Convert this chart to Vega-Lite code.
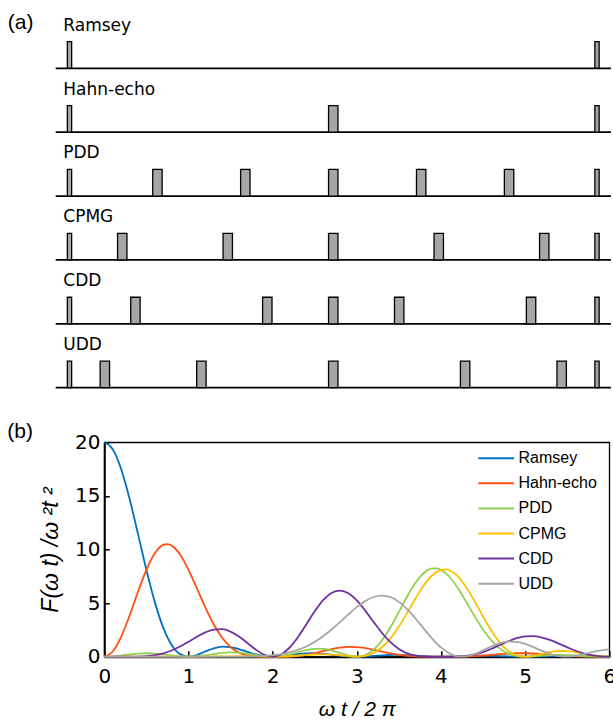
{
  "$schema": "https://vega.github.io/schema/vega-lite/v6.json",
  "width": 505,
  "height": 214.4,
  "autosize": {"type": "none"},
  "padding": {"left": 104.3, "top": 442.3, "right": 3.7, "bottom": 65.3},
  "config": {
    "font": "Liberation Sans",
    "view": {"stroke": "black", "strokeWidth": 1.3},
    "text": {"font": "Liberation Sans", "color": "black"}
  },
  "datasets": {
    "seqs": [
      {"seq": "Ramsey"}, {"seq": "Hahn-echo"}, {"seq": "PDD"}, {"seq": "CPMG"}, {"seq": "CDD"}, {"seq": "UDD"}
    ],
    "pulses": [
      {"seq": "Ramsey", "t": 0, "kind": "half"}, {"seq": "Ramsey", "t": 1, "kind": "half"},
      {"seq": "Hahn-echo", "t": 0, "kind": "half"}, {"seq": "Hahn-echo", "t": 0.5, "kind": "full"}, {"seq": "Hahn-echo", "t": 1, "kind": "half"},
      {"seq": "PDD", "t": 0, "kind": "half"}, {"seq": "PDD", "t": 0.1667, "kind": "full"}, {"seq": "PDD", "t": 0.3333, "kind": "full"}, {"seq": "PDD", "t": 0.5, "kind": "full"}, {"seq": "PDD", "t": 0.6667, "kind": "full"}, {"seq": "PDD", "t": 0.8333, "kind": "full"}, {"seq": "PDD", "t": 1, "kind": "half"},
      {"seq": "CPMG", "t": 0, "kind": "half"}, {"seq": "CPMG", "t": 0.1, "kind": "full"}, {"seq": "CPMG", "t": 0.3, "kind": "full"}, {"seq": "CPMG", "t": 0.5, "kind": "full"}, {"seq": "CPMG", "t": 0.7, "kind": "full"}, {"seq": "CPMG", "t": 0.9, "kind": "full"}, {"seq": "CPMG", "t": 1, "kind": "half"},
      {"seq": "CDD", "t": 0, "kind": "half"}, {"seq": "CDD", "t": 0.125, "kind": "full"}, {"seq": "CDD", "t": 0.375, "kind": "full"}, {"seq": "CDD", "t": 0.5, "kind": "full"}, {"seq": "CDD", "t": 0.625, "kind": "full"}, {"seq": "CDD", "t": 0.875, "kind": "full"}, {"seq": "CDD", "t": 1, "kind": "half"},
      {"seq": "UDD", "t": 0, "kind": "half"}, {"seq": "UDD", "t": 0.067, "kind": "full"}, {"seq": "UDD", "t": 0.25, "kind": "full"}, {"seq": "UDD", "t": 0.5, "kind": "full"}, {"seq": "UDD", "t": 0.75, "kind": "full"}, {"seq": "UDD", "t": 0.933, "kind": "full"}, {"seq": "UDD", "t": 1, "kind": "half"}
    ],
    "curves": [
      {"s":"Ramsey","x":0,"y":20},{"s":"Ramsey","x":0.1,"y":19.351},{"s":"Ramsey","x":0.2,"y":17.503},{"s":"Ramsey","x":0.3,"y":14.737},{"s":"Ramsey","x":0.4,"y":11.456},{"s":"Ramsey","x":0.5,"y":8.106},{"s":"Ramsey","x":0.6,"y":5.091},{"s":"Ramsey","x":0.7,"y":2.707},{"s":"Ramsey","x":0.8,"y":1.094},{"s":"Ramsey","x":0.9,"y":0.239},{"s":"Ramsey","x":1,"y":0},{"s":"Ramsey","x":1.1,"y":0.16},{"s":"Ramsey","x":1.2,"y":0.486},{"s":"Ramsey","x":1.3,"y":0.785},{"s":"Ramsey","x":1.4,"y":0.935},{"s":"Ramsey","x":1.5,"y":0.901},{"s":"Ramsey","x":1.6,"y":0.716},{"s":"Ramsey","x":1.7,"y":0.459},{"s":"Ramsey","x":1.8,"y":0.216},{"s":"Ramsey","x":1.9,"y":0.054},{"s":"Ramsey","x":2,"y":0},{"s":"Ramsey","x":2.1,"y":0.044},{"s":"Ramsey","x":2.2,"y":0.145},{"s":"Ramsey","x":2.3,"y":0.251},{"s":"Ramsey","x":2.4,"y":0.318},{"s":"Ramsey","x":2.5,"y":0.324},{"s":"Ramsey","x":2.6,"y":0.271},{"s":"Ramsey","x":2.7,"y":0.182},{"s":"Ramsey","x":2.8,"y":0.089},{"s":"Ramsey","x":2.9,"y":0.023},{"s":"Ramsey","x":3,"y":0},{"s":"Ramsey","x":3.1,"y":0.02},{"s":"Ramsey","x":3.2,"y":0.068},{"s":"Ramsey","x":3.3,"y":0.122},{"s":"Ramsey","x":3.4,"y":0.159},{"s":"Ramsey","x":3.5,"y":0.165},{"s":"Ramsey","x":3.6,"y":0.141},{"s":"Ramsey","x":3.7,"y":0.097},{"s":"Ramsey","x":3.8,"y":0.048},{"s":"Ramsey","x":3.9,"y":0.013},{"s":"Ramsey","x":4,"y":0},{"s":"Ramsey","x":4.1,"y":0.012},{"s":"Ramsey","x":4.2,"y":0.04},{"s":"Ramsey","x":4.3,"y":0.072},{"s":"Ramsey","x":4.4,"y":0.095},{"s":"Ramsey","x":4.5,"y":0.1},{"s":"Ramsey","x":4.6,"y":0.087},{"s":"Ramsey","x":4.7,"y":0.06},{"s":"Ramsey","x":4.8,"y":0.03},{"s":"Ramsey","x":4.9,"y":0.008},{"s":"Ramsey","x":5,"y":0},{"s":"Ramsey","x":5.1,"y":0.007},{"s":"Ramsey","x":5.2,"y":0.026},{"s":"Ramsey","x":5.3,"y":0.047},{"s":"Ramsey","x":5.4,"y":0.063},{"s":"Ramsey","x":5.5,"y":0.067},{"s":"Ramsey","x":5.6,"y":0.058},{"s":"Ramsey","x":5.7,"y":0.041},{"s":"Ramsey","x":5.8,"y":0.021},{"s":"Ramsey","x":5.9,"y":0.006},{"s":"Ramsey","x":6,"y":0},
      {"s":"Hahn-echo","x":0,"y":0},{"s":"Hahn-echo","x":0.1,"y":0.486},{"s":"Hahn-echo","x":0.2,"y":1.848},{"s":"Hahn-echo","x":0.3,"y":3.826},{"s":"Hahn-echo","x":0.4,"y":6.049},{"s":"Hahn-echo","x":0.5,"y":8.106},{"s":"Hahn-echo","x":0.6,"y":9.646},{"s":"Hahn-echo","x":0.7,"y":10.43},{"s":"Hahn-echo","x":0.75,"y":10.498},{"s":"Hahn-echo","x":0.8,"y":10.36},{"s":"Hahn-echo","x":0.9,"y":9.524},{"s":"Hahn-echo","x":1,"y":8.106},{"s":"Hahn-echo","x":1.1,"y":6.375},{"s":"Hahn-echo","x":1.2,"y":4.605},{"s":"Hahn-echo","x":1.3,"y":3.023},{"s":"Hahn-echo","x":1.4,"y":1.772},{"s":"Hahn-echo","x":1.5,"y":0.901},{"s":"Hahn-echo","x":1.6,"y":0.378},{"s":"Hahn-echo","x":1.7,"y":0.119},{"s":"Hahn-echo","x":1.8,"y":0.023},{"s":"Hahn-echo","x":1.9,"y":0.001},{"s":"Hahn-echo","x":2,"y":0},{"s":"Hahn-echo","x":2.1,"y":0.001},{"s":"Hahn-echo","x":2.2,"y":0.015},{"s":"Hahn-echo","x":2.3,"y":0.065},{"s":"Hahn-echo","x":2.4,"y":0.168},{"s":"Hahn-echo","x":2.5,"y":0.324},{"s":"Hahn-echo","x":2.6,"y":0.514},{"s":"Hahn-echo","x":2.7,"y":0.701},{"s":"Hahn-echo","x":2.8,"y":0.846},{"s":"Hahn-echo","x":2.9,"y":0.917},{"s":"Hahn-echo","x":3,"y":0.901},{"s":"Hahn-echo","x":3.1,"y":0.803},{"s":"Hahn-echo","x":3.2,"y":0.648},{"s":"Hahn-echo","x":3.3,"y":0.469},{"s":"Hahn-echo","x":3.4,"y":0.3},{"s":"Hahn-echo","x":3.5,"y":0.165},{"s":"Hahn-echo","x":3.6,"y":0.075},{"s":"Hahn-echo","x":3.7,"y":0.025},{"s":"Hahn-echo","x":3.8,"y":0.005},{"s":"Hahn-echo","x":3.9,"y":0},{"s":"Hahn-echo","x":4,"y":0},{"s":"Hahn-echo","x":4.1,"y":0},{"s":"Hahn-echo","x":4.2,"y":0.004},{"s":"Hahn-echo","x":4.3,"y":0.019},{"s":"Hahn-echo","x":4.4,"y":0.05},{"s":"Hahn-echo","x":4.5,"y":0.1},{"s":"Hahn-echo","x":4.6,"y":0.164},{"s":"Hahn-echo","x":4.7,"y":0.231},{"s":"Hahn-echo","x":4.8,"y":0.288},{"s":"Hahn-echo","x":4.9,"y":0.321},{"s":"Hahn-echo","x":5,"y":0.324},{"s":"Hahn-echo","x":5.1,"y":0.297},{"s":"Hahn-echo","x":5.2,"y":0.245},{"s":"Hahn-echo","x":5.3,"y":0.182},{"s":"Hahn-echo","x":5.4,"y":0.119},{"s":"Hahn-echo","x":5.5,"y":0.067},{"s":"Hahn-echo","x":5.6,"y":0.031},{"s":"Hahn-echo","x":5.7,"y":0.011},{"s":"Hahn-echo","x":5.8,"y":0.002},{"s":"Hahn-echo","x":5.9,"y":0},{"s":"Hahn-echo","x":6,"y":0},
      {"s":"PDD","x":0,"y":0},{"s":"PDD","x":0.1,"y":0.03},{"s":"PDD","x":0.2,"y":0.108},{"s":"PDD","x":0.3,"y":0.206},{"s":"PDD","x":0.4,"y":0.287},{"s":"PDD","x":0.5,"y":0.321},{"s":"PDD","x":0.6,"y":0.294},{"s":"PDD","x":0.7,"y":0.215},{"s":"PDD","x":0.8,"y":0.116},{"s":"PDD","x":0.9,"y":0.033},{"s":"PDD","x":1,"y":0},{"s":"PDD","x":1.1,"y":0.034},{"s":"PDD","x":1.2,"y":0.126},{"s":"PDD","x":1.3,"y":0.246},{"s":"PDD","x":1.4,"y":0.351},{"s":"PDD","x":1.5,"y":0.402},{"s":"PDD","x":1.6,"y":0.378},{"s":"PDD","x":1.7,"y":0.285},{"s":"PDD","x":1.8,"y":0.158},{"s":"PDD","x":1.9,"y":0.046},{"s":"PDD","x":2,"y":0},{"s":"PDD","x":2.1,"y":0.051},{"s":"PDD","x":2.2,"y":0.198},{"s":"PDD","x":2.3,"y":0.403},{"s":"PDD","x":2.4,"y":0.603},{"s":"PDD","x":2.5,"y":0.726},{"s":"PDD","x":2.6,"y":0.722},{"s":"PDD","x":2.7,"y":0.58},{"s":"PDD","x":2.8,"y":0.344},{"s":"PDD","x":2.9,"y":0.108},{"s":"PDD","x":3,"y":0},{"s":"PDD","x":3.1,"y":0.148},{"s":"PDD","x":3.2,"y":0.648},{"s":"PDD","x":3.3,"y":1.531},{"s":"PDD","x":3.4,"y":2.751},{"s":"PDD","x":3.5,"y":4.181},{"s":"PDD","x":3.6,"y":5.638},{"s":"PDD","x":3.7,"y":6.916},{"s":"PDD","x":3.8,"y":7.828},{"s":"PDD","x":3.9,"y":8.241},{"s":"PDD","x":3.95,"y":8.242},{"s":"PDD","x":4,"y":8.106},{"s":"PDD","x":4.1,"y":7.457},{"s":"PDD","x":4.2,"y":6.408},{"s":"PDD","x":4.3,"y":5.121},{"s":"PDD","x":4.4,"y":3.774},{"s":"PDD","x":4.5,"y":2.529},{"s":"PDD","x":4.6,"y":1.503},{"s":"PDD","x":4.7,"y":0.755},{"s":"PDD","x":4.8,"y":0.288},{"s":"PDD","x":4.9,"y":0.059},{"s":"PDD","x":5,"y":0},{"s":"PDD","x":5.1,"y":0.035},{"s":"PDD","x":5.2,"y":0.1},{"s":"PDD","x":5.3,"y":0.151},{"s":"PDD","x":5.4,"y":0.167},{"s":"PDD","x":5.5,"y":0.15},{"s":"PDD","x":5.6,"y":0.111},{"s":"PDD","x":5.7,"y":0.066},{"s":"PDD","x":5.8,"y":0.029},{"s":"PDD","x":5.9,"y":0.007},{"s":"PDD","x":6,"y":0},
      {"s":"CPMG","x":0,"y":0},{"s":"CPMG","x":0.1,"y":0},{"s":"CPMG","x":0.2,"y":0},{"s":"CPMG","x":0.3,"y":0.001},{"s":"CPMG","x":0.4,"y":0.002},{"s":"CPMG","x":0.5,"y":0.003},{"s":"CPMG","x":0.6,"y":0.004},{"s":"CPMG","x":0.7,"y":0.004},{"s":"CPMG","x":0.8,"y":0.003},{"s":"CPMG","x":0.9,"y":0.001},{"s":"CPMG","x":1,"y":0},{"s":"CPMG","x":1.1,"y":0.002},{"s":"CPMG","x":1.2,"y":0.007},{"s":"CPMG","x":1.3,"y":0.017},{"s":"CPMG","x":1.4,"y":0.028},{"s":"CPMG","x":1.5,"y":0.037},{"s":"CPMG","x":1.6,"y":0.04},{"s":"CPMG","x":1.7,"y":0.034},{"s":"CPMG","x":1.8,"y":0.021},{"s":"CPMG","x":1.9,"y":0.007},{"s":"CPMG","x":2,"y":0},{"s":"CPMG","x":2.1,"y":0.01},{"s":"CPMG","x":2.2,"y":0.042},{"s":"CPMG","x":2.3,"y":0.095},{"s":"CPMG","x":2.4,"y":0.157},{"s":"CPMG","x":2.5,"y":0.207},{"s":"CPMG","x":2.6,"y":0.226},{"s":"CPMG","x":2.7,"y":0.199},{"s":"CPMG","x":2.8,"y":0.129},{"s":"CPMG","x":2.9,"y":0.044},{"s":"CPMG","x":3,"y":0},{"s":"CPMG","x":3.1,"y":0.072},{"s":"CPMG","x":3.2,"y":0.342},{"s":"CPMG","x":3.3,"y":0.877},{"s":"CPMG","x":3.4,"y":1.71},{"s":"CPMG","x":3.5,"y":2.816},{"s":"CPMG","x":3.6,"y":4.113},{"s":"CPMG","x":3.7,"y":5.461},{"s":"CPMG","x":3.8,"y":6.689},{"s":"CPMG","x":3.9,"y":7.618},{"s":"CPMG","x":4,"y":8.106},{"s":"CPMG","x":4.05,"y":8.154},{"s":"CPMG","x":4.1,"y":8.067},{"s":"CPMG","x":4.2,"y":7.499},{"s":"CPMG","x":4.3,"y":6.484},{"s":"CPMG","x":4.4,"y":5.174},{"s":"CPMG","x":4.5,"y":3.755},{"s":"CPMG","x":4.6,"y":2.418},{"s":"CPMG","x":4.7,"y":1.317},{"s":"CPMG","x":4.8,"y":0.545},{"s":"CPMG","x":4.9,"y":0.122},{"s":"CPMG","x":5,"y":0},{"s":"CPMG","x":5.1,"y":0.085},{"s":"CPMG","x":5.2,"y":0.266},{"s":"CPMG","x":5.3,"y":0.438},{"s":"CPMG","x":5.4,"y":0.534},{"s":"CPMG","x":5.5,"y":0.525},{"s":"CPMG","x":5.6,"y":0.427},{"s":"CPMG","x":5.7,"y":0.279},{"s":"CPMG","x":5.8,"y":0.134},{"s":"CPMG","x":5.9,"y":0.034},{"s":"CPMG","x":6,"y":0},
      {"s":"CDD","x":0,"y":0},{"s":"CDD","x":0.1,"y":0},{"s":"CDD","x":0.2,"y":0},{"s":"CDD","x":0.3,"y":0.003},{"s":"CDD","x":0.4,"y":0.016},{"s":"CDD","x":0.5,"y":0.055},{"s":"CDD","x":0.6,"y":0.144},{"s":"CDD","x":0.7,"y":0.311},{"s":"CDD","x":0.8,"y":0.578},{"s":"CDD","x":0.9,"y":0.946},{"s":"CDD","x":1,"y":1.391},{"s":"CDD","x":1.1,"y":1.857},{"s":"CDD","x":1.2,"y":2.265},{"s":"CDD","x":1.3,"y":2.525},{"s":"CDD","x":1.4,"y":2.563},{"s":"CDD","x":1.5,"y":2.344},{"s":"CDD","x":1.6,"y":1.89},{"s":"CDD","x":1.7,"y":1.285},{"s":"CDD","x":1.8,"y":0.663},{"s":"CDD","x":1.9,"y":0.186},{"s":"CDD","x":2,"y":0},{"s":"CDD","x":2.1,"y":0.208},{"s":"CDD","x":2.2,"y":0.835},{"s":"CDD","x":2.3,"y":1.817},{"s":"CDD","x":2.4,"y":3.014},{"s":"CDD","x":2.5,"y":4.233},{"s":"CDD","x":2.6,"y":5.269},{"s":"CDD","x":2.7,"y":5.95},{"s":"CDD","x":2.8,"y":6.172},{"s":"CDD","x":2.9,"y":5.917},{"s":"CDD","x":3,"y":5.249},{"s":"CDD","x":3.1,"y":4.302},{"s":"CDD","x":3.2,"y":3.238},{"s":"CDD","x":3.3,"y":2.215},{"s":"CDD","x":3.4,"y":1.353},{"s":"CDD","x":3.5,"y":0.717},{"s":"CDD","x":3.6,"y":0.314},{"s":"CDD","x":3.7,"y":0.104},{"s":"CDD","x":3.8,"y":0.021},{"s":"CDD","x":3.9,"y":0.001},{"s":"CDD","x":4,"y":0},{"s":"CDD","x":4.1,"y":0.001},{"s":"CDD","x":4.2,"y":0.017},{"s":"CDD","x":4.3,"y":0.077},{"s":"CDD","x":4.4,"y":0.21},{"s":"CDD","x":4.5,"y":0.434},{"s":"CDD","x":4.6,"y":0.739},{"s":"CDD","x":4.7,"y":1.092},{"s":"CDD","x":4.8,"y":1.439},{"s":"CDD","x":4.9,"y":1.722},{"s":"CDD","x":5,"y":1.89},{"s":"CDD","x":5.1,"y":1.913},{"s":"CDD","x":5.2,"y":1.79},{"s":"CDD","x":5.3,"y":1.544},{"s":"CDD","x":5.4,"y":1.221},{"s":"CDD","x":5.5,"y":0.875},{"s":"CDD","x":5.6,"y":0.554},{"s":"CDD","x":5.7,"y":0.296},{"s":"CDD","x":5.8,"y":0.12},{"s":"CDD","x":5.9,"y":0.026},{"s":"CDD","x":6,"y":0},
      {"s":"UDD","x":0,"y":0},{"s":"UDD","x":0.5,"y":0},{"s":"UDD","x":1,"y":0},{"s":"UDD","x":1.1,"y":0},{"s":"UDD","x":1.2,"y":0.002},{"s":"UDD","x":1.3,"y":0.001},{"s":"UDD","x":1.4,"y":0.001},{"s":"UDD","x":1.5,"y":0.004},{"s":"UDD","x":1.6,"y":0.009},{"s":"UDD","x":1.7,"y":0.019},{"s":"UDD","x":1.8,"y":0.039},{"s":"UDD","x":1.9,"y":0.076},{"s":"UDD","x":2,"y":0.15},{"s":"UDD","x":2.1,"y":0.243},{"s":"UDD","x":2.2,"y":0.402},{"s":"UDD","x":2.3,"y":0.634},{"s":"UDD","x":2.4,"y":0.957},{"s":"UDD","x":2.5,"y":1.382},{"s":"UDD","x":2.6,"y":1.912},{"s":"UDD","x":2.7,"y":2.537},{"s":"UDD","x":2.8,"y":3.23},{"s":"UDD","x":2.9,"y":3.945},{"s":"UDD","x":3,"y":4.621},{"s":"UDD","x":3.1,"y":5.186},{"s":"UDD","x":3.2,"y":5.568},{"s":"UDD","x":3.3,"y":5.704},{"s":"UDD","x":3.4,"y":5.556},{"s":"UDD","x":3.5,"y":5.116},{"s":"UDD","x":3.6,"y":4.421},{"s":"UDD","x":3.7,"y":3.541},{"s":"UDD","x":3.8,"y":2.578},{"s":"UDD","x":3.9,"y":1.649},{"s":"UDD","x":4,"y":0.864},{"s":"UDD","x":4.1,"y":0.311},{"s":"UDD","x":4.2,"y":0.034},{"s":"UDD","x":4.3,"y":0.03},{"s":"UDD","x":4.4,"y":0.246},{"s":"UDD","x":4.5,"y":0.593},{"s":"UDD","x":4.6,"y":0.967},{"s":"UDD","x":4.7,"y":1.265},{"s":"UDD","x":4.8,"y":1.416},{"s":"UDD","x":4.9,"y":1.387},{"s":"UDD","x":5,"y":1.193},{"s":"UDD","x":5.1,"y":0.886},{"s":"UDD","x":5.2,"y":0.543},{"s":"UDD","x":5.3,"y":0.245},{"s":"UDD","x":5.4,"y":0.054},{"s":"UDD","x":5.5,"y":0.001},{"s":"UDD","x":5.6,"y":0.077},{"s":"UDD","x":5.7,"y":0.243},{"s":"UDD","x":5.8,"y":0.437},{"s":"UDD","x":5.9,"y":0.597},{"s":"UDD","x":6,"y":0.674}
    ]
  },
  "layer": [
    {
      "data": {"name": "curves"},
      "mark": {"type": "line", "interpolate": "monotone", "strokeWidth": 1.8},
      "encoding": {
        "x": {
          "field": "x", "type": "quantitative",
          "scale": {"domain": [0, 6], "nice": false, "zero": false},
          "axis": {
            "orient": "bottom", "values": [0, 1, 2, 3, 4, 5, 6], "grid": false,
            "labelFontSize": 20, "labelColor": "black", "labelFont": "DejaVu Sans",
            "labelFlush": false, "labelOverlap": false, "labelPadding": 16,
            "tickColor": "black", "tickSize": -6, "tickWidth": 1.5,
            "domainColor": "black", "domainWidth": 2,
            "title": "ω t / 2 π", "titleFontSize": 21, "titleFontStyle": "italic",
            "titleFontWeight": "normal", "titleColor": "black", "titleFont": "Liberation Sans", "titlePadding": 12
          }
        },
        "y": {
          "field": "y", "type": "quantitative",
          "scale": {"domain": [0, 20], "nice": false, "zero": false},
          "axis": {
            "orient": "left", "values": [0, 5, 10, 15, 20], "grid": false,
            "labelFontSize": 20, "labelColor": "black", "labelFont": "DejaVu Sans",
            "labelFlush": false, "labelOverlap": false, "labelPadding": 9.3,
            "tickColor": "black", "tickSize": -5, "tickWidth": 1.5,
            "domainColor": "black", "domainWidth": 2,
            "title": "F(ω t) /ω ²t ²", "titleFontSize": 23, "titleFontStyle": "italic",
            "titleFontWeight": "normal", "titleColor": "black", "titleFont": "Liberation Sans", "titlePadding": 12.5
          }
        },
        "color": {
          "field": "s", "type": "nominal",
          "scale": {
            "domain": ["Ramsey", "Hahn-echo", "PDD", "CPMG", "CDD", "UDD"],
            "range": ["#0070C0", "#FF5010", "#92D050", "#FFC000", "#7030A0", "#A6A6A6"]
          },
          "legend": {
            "orient": "none", "legendX": 383.4, "legendY": 7.4, "title": null,
            "symbolType": "M-2.5,0H2.5", "symbolSize": 204, "symbolStrokeWidth": 2,
            "labelFontSize": 16, "labelColor": "black", "labelFont": "Liberation Sans",
            "rowPadding": 8.1, "labelOffset": 13.8, "padding": 0
          }
        }
      }
    },
    {
      "layer": [
        {
          "data": {"name": "seqs"},
          "mark": {"type": "rule", "color": "black", "strokeWidth": 1.7},
          "encoding": {
            "x": {"datum": -0.0262, "type": "quantitative", "scale": {"domain": [0, 1], "range": [-34.8, 492.7], "nice": false, "zero": false}, "axis": null},
            "x2": {"datum": 1.0265},
            "y": {"field": "seq", "type": "nominal", "bandPosition": 1, "scale": {"domain": ["Ramsey", "Hahn-echo", "PDD", "CPMG", "CDD", "UDD"], "range": [-400.6, -54.6], "paddingInner": 0.584, "paddingOuter": 0}, "axis": null}
          }
        },
        {
          "data": {"name": "pulses"},
          "transform": [{"filter": "datum.kind == 'half'"}],
          "mark": {"type": "tick", "thickness": 4.3, "size": 26.57, "color": "#A6A6A6", "stroke": "black", "strokeWidth": 1.3, "opacity": 1},
          "encoding": {
            "x": {"field": "t", "type": "quantitative", "scale": {"domain": [0, 1], "range": [-34.8, 492.7], "nice": false, "zero": false}, "axis": null},
            "y": {"field": "seq", "type": "nominal", "scale": {"domain": ["Ramsey", "Hahn-echo", "PDD", "CPMG", "CDD", "UDD"], "range": [-400.6, -54.6], "paddingInner": 0.584, "paddingOuter": 0}, "axis": null}
          }
        },
        {
          "data": {"name": "pulses"},
          "transform": [{"filter": "datum.kind == 'full'"}],
          "mark": {"type": "tick", "thickness": 9.4, "size": 26.57, "color": "#A6A6A6", "stroke": "black", "strokeWidth": 1.3, "opacity": 1},
          "encoding": {
            "x": {"field": "t", "type": "quantitative", "scale": {"domain": [0, 1], "range": [-34.8, 492.7], "nice": false, "zero": false}, "axis": null},
            "y": {"field": "seq", "type": "nominal", "scale": {"domain": ["Ramsey", "Hahn-echo", "PDD", "CPMG", "CDD", "UDD"], "range": [-400.6, -54.6], "paddingInner": 0.584, "paddingOuter": 0}, "axis": null}
          }
        },
        {
          "data": {"name": "seqs"},
          "mark": {"type": "text", "align": "left", "baseline": "alphabetic", "fontSize": 17, "font": "DejaVu Sans", "dy": -11, "color": "black"},
          "encoding": {
            "x": {"datum": -0.0118, "type": "quantitative", "scale": {"domain": [0, 1], "range": [-34.8, 492.7], "nice": false, "zero": false}, "axis": null},
            "y": {"field": "seq", "type": "nominal", "bandPosition": 0, "scale": {"domain": ["Ramsey", "Hahn-echo", "PDD", "CPMG", "CDD", "UDD"], "range": [-400.6, -54.6], "paddingInner": 0.584, "paddingOuter": 0}, "axis": null},
            "text": {"field": "seq"}
          }
        },
        {
          "data": {"values": [{"label": "(a)", "seq": "Ramsey"}]},
          "mark": {"type": "text", "align": "left", "baseline": "alphabetic", "fontSize": 21, "dy": -12.7, "color": "black"},
          "encoding": {
            "x": {"datum": -0.117, "type": "quantitative", "scale": {"domain": [0, 1], "range": [-34.8, 492.7], "nice": false, "zero": false}, "axis": null},
            "y": {"field": "seq", "type": "nominal", "bandPosition": 0, "scale": {"domain": ["Ramsey", "Hahn-echo", "PDD", "CPMG", "CDD", "UDD"], "range": [-400.6, -54.6], "paddingInner": 0.584, "paddingOuter": 0}, "axis": null},
            "text": {"field": "label"}
          }
        }
      ]
    },
    {
      "data": {"values": [{"label": "(b)"}]},
      "mark": {"type": "text", "align": "left", "baseline": "alphabetic", "fontSize": 21, "color": "black"},
      "encoding": {
        "x": {"datum": -1.1525, "type": "quantitative", "scale": {"domain": [0, 6], "nice": false, "zero": false}, "axis": null},
        "y": {"datum": 20.373, "type": "quantitative", "scale": {"domain": [0, 20], "nice": false, "zero": false}, "axis": null},
        "text": {"field": "label"}
      }
    }
  ],
  "resolve": {"scale": {"x": "independent", "y": "independent", "color": "independent"}}
}
